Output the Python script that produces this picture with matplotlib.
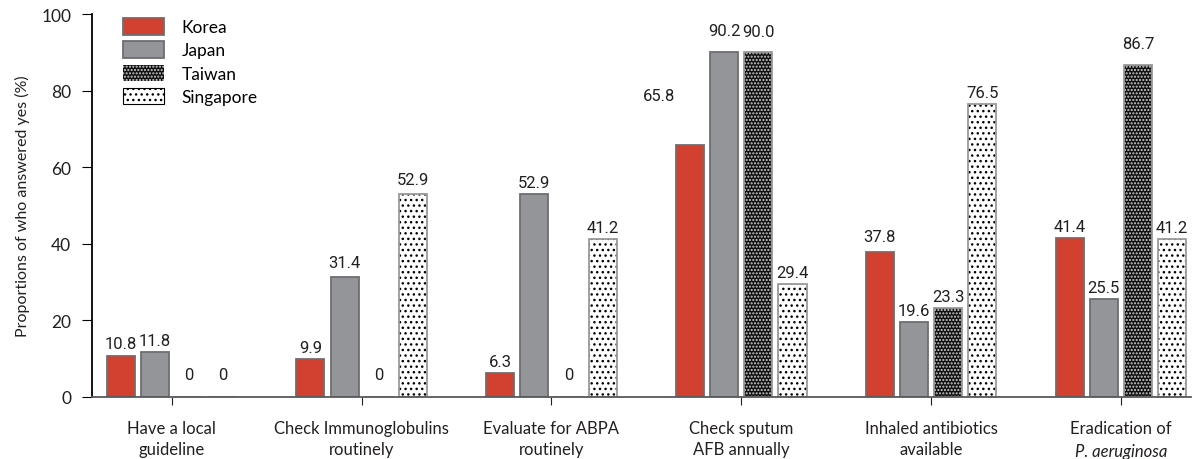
import numpy as np
import matplotlib
matplotlib.use('Agg')
import matplotlib.pyplot as plt
from matplotlib.patches import Patch
import matplotlib.transforms as mtransforms

categories = ['Have a local\nguideline', 'Check Immunoglobulins\nroutinely',
              'Evaluate for ABPA\nroutinely', 'Check sputum\nAFB annually',
              'Inhaled antibiotics\navailable', 'Eradication of']
countries = ['Korea', 'Japan', 'Taiwan', 'Singapore']
korea = [10.8, 9.9, 6.3, 65.8, 37.8, 41.4]
japan = [11.8, 31.4, 52.9, 90.2, 19.6, 25.5]
taiwan = [0, 0, 0, 90.0, 23.3, 86.7]
singapore = [0, 52.9, 41.2, 29.4, 76.5, 41.2]
values = [korea, japan, taiwan, singapore]

# label offsets (points) where the original moved them
label_offset = {(0, 3): (-22, 30), (1, 3): (0, 10), (2, 3): (0, 10), (2, 5): (0, 10),
                (1, 1): (0, 5), (3, 1): (0, 5), (0, 4): (0, 6)}

plt.rcParams['font.family'] = ['Lato', 'DejaVu Sans']
plt.rcParams['hatch.linewidth'] = 1.0

fig = plt.figure(figsize=(11.97, 4.6), dpi=100)
ax = fig.add_axes([0.077, 0.135, 0.918, 0.832])

x = np.arange(len(categories))
step = 0.18
width = 0.148
edge = '#6d6e71'

for i, vals in enumerate(values):
    pos = x + (i - 1.5) * step
    if i == 0:
        ax.bar(pos, vals, width, color='#d2412f', edgecolor=edge, linewidth=1.3)
    elif i == 1:
        ax.bar(pos, vals, width, color='#939598', edgecolor=edge, linewidth=1.3)
    elif i == 2:
        ax.bar(pos, vals, width, color='#111111', edgecolor='#d0d0d0', hatch='.....', linewidth=0)
        ax.bar(pos, vals, width, fill=False, edgecolor='#9a9a9a', linewidth=1.3)
    else:
        ax.bar(pos, vals, width, color='white', edgecolor='black', hatch='...', linewidth=0)
        ax.bar(pos, vals, width, fill=False, edgecolor='#9a9a9a', linewidth=1.3)
    for j, v in enumerate(vals):
        txt = '0' if v == 0 else '%.1f' % v
        dx, dy = label_offset.get((i, j), (0, 11 if v == 0 else 3))
        ax.annotate(txt, (pos[j], v), xytext=(dx, dy), textcoords='offset points',
                    ha='center', va='bottom', fontsize=12, family=['Roboto', 'DejaVu Sans'],
                    color='#231f20')

ax.set_xlim(-0.42, 5.37)
ax.set_ylim(0, 100)
ax.set_yticks([0, 20, 40, 60, 80, 100])
ax.set_xticks(x)
ax.set_xticklabels(categories, fontsize=12, color='#231f20', linespacing=1.4)
trans = mtransforms.blended_transform_factory(ax.transData, ax.transAxes)
ax.text(x[-1], -0.12, 'P. aeruginosa', transform=trans, ha='center', va='top',
        fontsize=12, style='italic', color='#231f20')
ax.tick_params(axis='x', length=6, pad=10.5, color='#231f20')
ax.tick_params(axis='y', length=7, labelsize=12.5, labelcolor='#231f20', pad=8)
ax.set_ylabel('Proportions of who answered yes (%)', fontsize=11.5, color='#231f20', labelpad=8)
ax.spines['top'].set_visible(False)
ax.spines['right'].set_visible(False)
ax.spines['bottom'].set_color('#58595b')
ax.spines['bottom'].set_linewidth(1.3)
ax.spines['left'].set_linewidth(1.3)

handles = [Patch(facecolor='#d2412f', edgecolor=edge, linewidth=1.3),
           Patch(facecolor='#939598', edgecolor=edge, linewidth=1.3),
           Patch(facecolor='#111111', edgecolor='#d0d0d0', hatch='.....', linewidth=0),
           Patch(facecolor='white', edgecolor='black', hatch='...', linewidth=0.8)]
ax.legend(handles, countries, loc='upper left', bbox_to_anchor=(0.02, 1.013), frameon=False,
          fontsize=12.5, handlelength=2.4, handleheight=1.1, labelspacing=0.35,
          handletextpad=1.0, borderaxespad=0.1)

fig.savefig('out.png', dpi=100)
